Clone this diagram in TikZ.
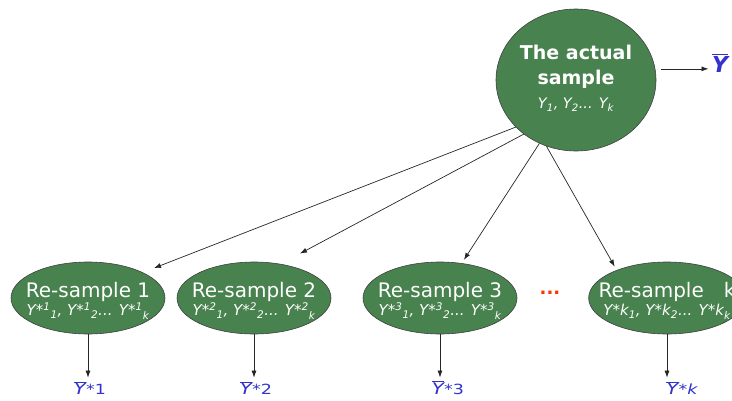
\documentclass[tikz,border=0pt]{standalone}
\usepackage{fontspec}
\usepackage{graphicx}
\setmainfont{DejaVu Sans}
\usetikzlibrary{shapes.geometric, arrows.meta}
\definecolor{samplegreen}{RGB}{72,130,78}
\definecolor{meanblue}{RGB}{51,51,204}
\definecolor{dotred}{RGB}{255,51,0}
\newcommand{\ybar}{$\overline{\mbox{\itshape Y}}$}
\newcommand{\meanlbl}[1]{\scalebox{1.25}[1]{\ybar{\fontsize{14}{14}\selectfont *#1}}}

\begin{document}
\begin{tikzpicture}[x=1pt, y=-1pt,
  blob/.style = {draw=black!75, line width=0.6pt, fill=samplegreen, ellipse, inner sep=0pt, text=white, align=center},
  resample/.style = {blob, inner xsep=-13pt, minimum width=154, minimum height=72, font=\fontsize{20}{21}\selectfont},
  mean/.style = {text=meanblue, font=\fontsize{16}{16}\selectfont},
  arr/.style = {-{Latex[length=7pt,width=5pt]}, black!85, line width=0.7pt}]

\useasboundingbox (0,0) rectangle (732,400);
\clip (0,0) rectangle (732,400);

%% the actual sample
\node[blob, inner xsep=-4pt, minimum width=160, minimum height=142, font=\fontsize{19}{25}\selectfont\bfseries] (actual) at (576,80)
  {The actual\\sample\\[-1pt]{\fontsize{14.5}{16}\selectfont\mdseries\itshape Y\textsubscript{1}, Y\textsubscript{2}... Y\textsubscript{k}}\\[-19pt]\mbox{}};
\node[text=meanblue, font=\fontsize{22}{22}\selectfont\bfseries] (ybar) at (720,63) {\ybar};

%% re-samples
\node[resample] (rs1) at (88,298) {\rule{0pt}{21pt}Re-sample 1\\[-3pt]{\fontsize{15}{16}\selectfont\itshape Y*\textsuperscript{1}\textsubscript{1}, Y*\textsuperscript{1}\textsubscript{2}... Y*\textsuperscript{1}\textsubscript{k}}};
\node[resample] (rs2) at (254,298) {\rule{0pt}{21pt}Re-sample 2\\[-3pt]{\fontsize{15}{16}\selectfont\itshape Y*\textsuperscript{2}\textsubscript{1}, Y*\textsuperscript{2}\textsubscript{2}... Y*\textsuperscript{2}\textsubscript{k}}};
\node[resample] (rs3) at (440,298) {\rule{0pt}{21pt}Re-sample 3\\[-3pt]{\fontsize{15}{16}\selectfont\itshape Y*\textsuperscript{3}\textsubscript{1}, Y*\textsuperscript{3}\textsubscript{2}... Y*\textsuperscript{3}\textsubscript{k}}};
\node[resample] (rsk) at (667,298) {\rule{0pt}{21pt}Re-sample\hspace{20pt}k\\[-3pt]{\fontsize{15}{16}\selectfont\itshape Y*k\textsubscript{1}, Y*k\textsubscript{2}... Y*k\textsubscript{k}}};
\node[text=dotred, font=\fontsize{18}{18}\selectfont\bfseries] (dots) at (550,293) {...};

%% re-sample means
\node[mean] (m1) at (90,388) {\meanlbl{1}};
\node[mean] (m2) at (256,388) {\meanlbl{2}};
\node[mean] (m3) at (448,388) {\meanlbl{3}};
\node[mean] (mk) at (682,388) {\meanlbl{\itshape k}};

%%% edges
\draw[arr, shorten <=6pt] (actual.8) -- (actual.8 -| ybar.west);

\draw[arr, shorten >=12pt] (actual.218) -- (rs1.25);
\draw[arr, shorten >=22pt] (actual.226) -- (rs2.52);
\draw[arr, shorten >=4pt] (actual.240) -- (rs3.58);
\draw[arr, shorten >=4pt] (actual.246) -- (rsk.151);

\draw[arr] (rs1.south) -- (rs1.south |- m1.north);
\draw[arr] (rs2.south) -- (rs2.south |- m2.north);
\draw[arr] (rs3.south) -- (rs3.south |- m3.north);
\draw[arr] (rsk.south) -- (rsk.south |- mk.north);

\end{tikzpicture}
\end{document}
